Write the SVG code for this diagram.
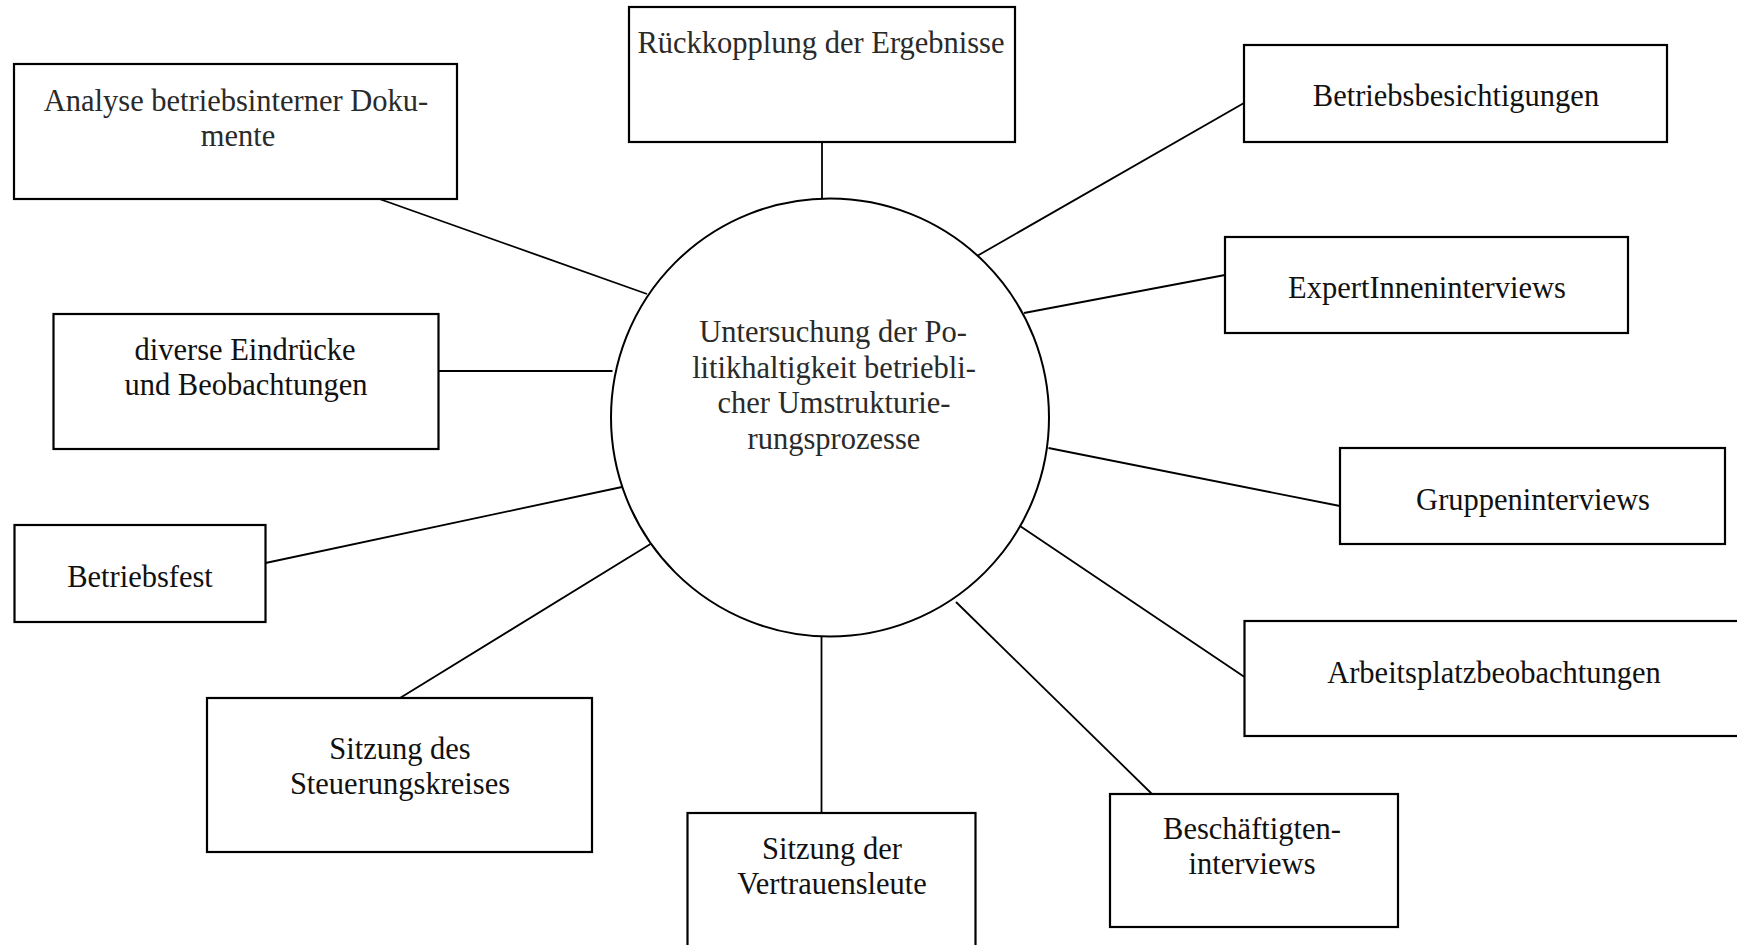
<svg xmlns="http://www.w3.org/2000/svg" width="1737" height="945" viewBox="0 0 1737 945">
<style>
.box{fill:#fff;stroke:#000;stroke-width:2.2}
.hub{fill:#fff;stroke:#000;stroke-width:2}
.con line{stroke:#000;stroke-width:1.8}
text{font-family:"Liberation Serif","Times New Roman",serif;font-size:30.5px;fill:#111;text-anchor:middle}
.lt{fill:#2a2a2a}
</style>
<rect x="0" y="0" width="1737" height="945" fill="#fff"/>
<g id="connectors" class="con">
<line x1="822" y1="142" x2="822" y2="198.5"/>
<line x1="379.5" y1="199" x2="647" y2="294"/>
<line x1="438.5" y1="371" x2="612.5" y2="371"/>
<line x1="265.5" y1="563" x2="622" y2="487"/>
<line x1="400" y1="698" x2="650.5" y2="544"/>
<line x1="821.5" y1="637" x2="821.5" y2="813"/>
<line x1="1152" y1="794" x2="956" y2="602"/>
<line x1="1244.5" y1="677" x2="1018.5" y2="525"/>
<line x1="1340" y1="506" x2="1048.5" y2="448"/>
<line x1="1225" y1="275" x2="1024" y2="313"/>
<line x1="1244" y1="103" x2="977" y2="256"/>
</g>
<g id="hub">
<circle class="hub" cx="830" cy="417.5" r="219"/>
<text class="lt" x="833" y="342">Untersuchung der Po-</text>
<text class="lt" x="834" y="378">litikhaltigkeit betriebli-</text>
<text class="lt" x="834" y="413">cher Umstrukturie-</text>
<text class="lt" x="834" y="449">rungsprozesse</text>
</g>
<g id="rueckkopplung">
<rect class="box" x="629" y="7" width="386" height="135"/>
<text class="lt" x="821" y="53">Rückkopplung der Ergebnisse</text>
</g>
<g id="analyse">
<rect class="box" x="14" y="64" width="443" height="135"/>
<text class="lt" x="236" y="111">Analyse betriebsinterner Doku-</text>
<text class="lt" x="238" y="146">mente</text>
</g>
<g id="diverse">
<rect class="box" x="53.5" y="314" width="385" height="135"/>
<text x="245" y="360">diverse Eindrücke</text>
<text x="246" y="395">und Beobachtungen</text>
</g>
<g id="betriebsfest">
<rect class="box" x="14.5" y="525" width="251" height="97"/>
<text x="140" y="587">Betriebsfest</text>
</g>
<g id="steuerungskreis">
<rect class="box" x="207" y="698" width="385" height="154"/>
<text x="400" y="759">Sitzung des</text>
<text x="400" y="794">Steuerungskreises</text>
</g>
<g id="vertrauensleute">
<rect class="box" x="687.5" y="813" width="288" height="200"/>
<text x="832" y="859">Sitzung der</text>
<text x="832" y="894">Vertrauensleute</text>
</g>
<g id="betriebsbesichtigungen">
<rect class="box" x="1244" y="45" width="423" height="97"/>
<text x="1456" y="106">Betriebsbesichtigungen</text>
</g>
<g id="expertinnen">
<rect class="box" x="1225" y="237" width="403" height="96"/>
<text x="1427" y="298">ExpertInneninterviews</text>
</g>
<g id="gruppeninterviews">
<rect class="box" x="1340" y="448" width="385" height="96"/>
<text x="1533" y="510">Gruppeninterviews</text>
</g>
<g id="arbeitsplatz">
<rect class="box" x="1244.5" y="621" width="500" height="115"/>
<text x="1494" y="683">Arbeitsplatzbeobachtungen</text>
</g>
<g id="beschaeftigten">
<rect class="box" x="1110" y="794" width="288" height="133"/>
<text x="1252" y="839">Beschäftigten-</text>
<text x="1252" y="874">interviews</text>
</g>
</svg>
